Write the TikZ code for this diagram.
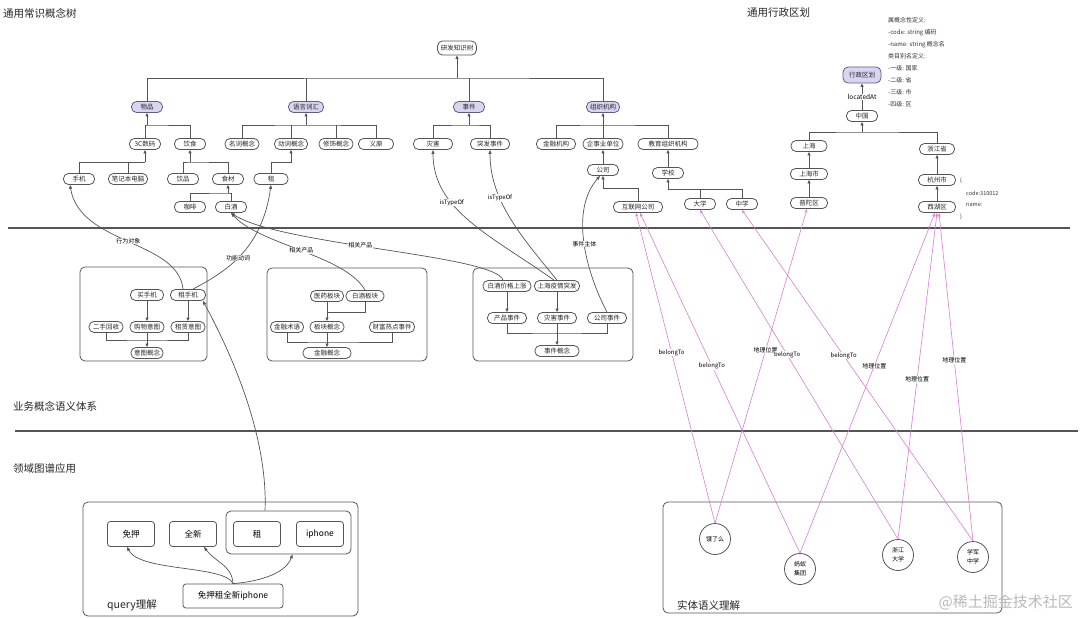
\documentclass[tikz,border=0pt]{standalone}
\usepackage{fontspec}
\setmainfont{Noto Sans CJK SC}
\usetikzlibrary{arrows.meta, positioning}
\definecolor{linegray}{RGB}{85,85,85}
\definecolor{lavender}{RGB}{216,212,242}
\definecolor{purpleline}{RGB}{98,94,128}
\definecolor{pinkline}{RGB}{214,128,214}
\begin{document}
\begin{tikzpicture}[x=1pt, y=-1pt,
  cbox/.style={draw=linegray, line width=0.8pt, rounded corners=5pt, font=\fontsize{6.5}{7}\selectfont, text=black!85, minimum width=31pt, minimum height=11pt, inner xsep=3pt, inner ysep=1pt},
  pbox/.style={cbox, fill=lavender, draw=purpleline},
  tline/.style={draw=linegray, line width=0.8pt},
  arr/.style={tline, -{Triangle[length=3.5pt,width=3pt]}},
  carr/.style={draw=linegray, line width=0.7pt, -{Triangle[length=4pt,width=3pt]}},
  parr/.style={draw=pinkline, line width=0.6pt, -{Stealth[length=4pt,width=3pt]}},
  lab/.style={font=\fontsize{6}{7}\selectfont, fill=white, inner sep=0.5pt},
  group/.style={draw=linegray, line width=0.8pt, rounded corners=5pt},
  qbox/.style={draw=linegray, line width=0.8pt, rounded corners=3pt, minimum width=47pt, minimum height=25pt, font=\fontsize{8.5}{9}\selectfont},
  ent/.style={circle, draw=linegray, line width=0.8pt, minimum size=31pt, inner sep=0pt, align=center, font=\fontsize{6}{9}\selectfont},
  title/.style={font=\fontsize{10.5}{12}\selectfont, text=black!85, inner sep=0pt},
  small/.style={font=\fontsize{5.5}{7}\selectfont, text=black!80, inner sep=0pt},
  sep/.style={draw=linegray, line width=2pt}]
  \useasboundingbox (0,0) rectangle (1080,618);
  \fill[white] (0,0) rectangle (1080,618);

  % section titles and separators
  \node[title, anchor=west] (t1) at (3,13) {通用常识概念树};
  \node[title, anchor=west] (t2) at (747,13) {通用行政区划};
  \node[title, anchor=west] (t3) at (13,406) {业务概念语义体系};
  \node[title, anchor=west] (t4) at (13,469) {领域图谱应用};
  \draw[sep] (8,228) -- (1070,228);
  \draw[sep] (15,431) -- (1078,431);

  % common sense concept tree
  \node[cbox, minimum width=39pt, minimum height=14pt] (root) at (457,48) {研发知识树};
  \node[pbox] (wupin) at (147,107) {物品};
  \node[pbox, minimum width=35pt] (yuyan) at (306,107) {语言词汇};
  \node[pbox] (shijian) at (469,107) {事件};
  \node[pbox, minimum width=33pt] (zuzhi) at (603,107) {组织机构};

  \node[cbox] (sanc) at (145,144) {3C数码};
  \node[cbox] (yinshi) at (190,144) {饮食};
  \node[cbox, minimum width=34pt] (mingci) at (242,144) {名词概念};
  \node[cbox, minimum width=33pt] (dongci) at (291,144) {动词概念};
  \node[cbox, minimum width=34pt] (xiushi) at (336,144) {修饰概念};
  \node[cbox, minimum width=35pt] (yiyuan) at (376,144) {义原};
  \node[cbox, minimum width=39pt] (zaihai) at (433,144) {灾害};
  \node[cbox, minimum width=39pt] (tufa) at (490,144) {突发事件};
  \node[cbox, minimum width=39pt] (jinrongjg) at (556,144) {金融机构};
  \node[cbox, minimum width=40pt] (qishiye) at (603,144) {企事业单位};
  \node[cbox, minimum width=60pt] (jiaoyu) at (668,144) {教育组织机构};

  \node[cbox] (shouji) at (79,179) {手机};
  \node[cbox, minimum width=39pt] (bijiben) at (128,179) {笔记本电脑};
  \node[cbox] (yinpin) at (183,179) {饮品};
  \node[cbox] (shicai) at (228,179) {食材};
  \node[cbox, minimum width=34pt] (zu) at (271,179) {租};
  \node[cbox] (gongsi) at (603,170) {公司};
  \node[cbox] (xuexiao) at (668,173) {学校};

  \node[cbox] (kafei) at (190,207) {咖啡};
  \node[cbox] (baijiu) at (231,207) {白酒};
  \node[cbox, minimum width=49pt] (hulian) at (638,207) {互联网公司};
  \node[cbox] (daxue) at (700,204) {大学};
  \node[cbox] (zhongxue) at (742,204) {中学};

  % tree joins
  \coordinate (j0) at (457,78);
  \draw[tline] (wupin.north) |- (j0) -| (zuzhi.north);
  \foreach \c in {yuyan,shijian} \draw[tline] (\c.north) -- (\c.north |- j0);
  \draw[arr] (j0) -- (root);

  \coordinate (j1) at (147,125);
  \draw[tline] (sanc.north) |- (j1) -| (yinshi.north);
  \draw[arr] (j1) -- (wupin);
  \coordinate (j2) at (306,125);
  \draw[tline] (mingci.north) |- (j2) -| (yiyuan.north);
  \foreach \c in {dongci,xiushi} \draw[tline] (\c.north) -- (\c.north |- j2);
  \draw[arr] (j2) -- (yuyan);
  \coordinate (j3) at (469,125);
  \draw[tline] (zaihai.north) |- (j3) -| (tufa.north);
  \draw[arr] (j3) -- (shijian);
  \coordinate (j4) at (603,125);
  \draw[tline] (jinrongjg.north) |- (j4) -| (jiaoyu.north);
  \draw[tline] (qishiye.north) -- (j4);
  \draw[arr] (j4) -- (zuzhi);

  \coordinate (j5) at (145,162);
  \draw[tline] (shouji.north) |- (j5);
  \draw[tline] (bijiben.north) -- (bijiben.north |- j5);
  \draw[arr] (j5) -- (sanc);
  \coordinate (j6) at (190,162);
  \draw[tline] (yinpin.north) |- (j6) -| (shicai.north);
  \draw[arr] (j6) -- (yinshi);
  \draw[arr] (zu.north) |- (291,162) -- (dongci.south);
  \coordinate (j7) at (228,193);
  \draw[tline] (kafei.north) |- (j7) -| (baijiu.north);
  \draw[arr] (j7) -- (shicai);

  \draw[arr] (gongsi) -- (qishiye);
  \draw[arr] (hulian.north) |- (603,188) -- (gongsi.south);
  \draw[arr] (xuexiao) -- (jiaoyu);
  \coordinate (j8) at (668,189);
  \draw[tline] (zhongxue.north) |- (j8);
  \draw[tline] (daxue.north) -- (daxue.north |- j8);
  \draw[arr] (j8) -- (xuexiao);

  % administrative regions
  \node[pbox, minimum width=38pt, minimum height=16pt] (xzqh) at (862,75) {行政区划};
  \node[cbox] (zhongguo) at (862,116) {中国};
  \node[cbox, minimum width=36pt] (shanghai) at (809,146) {上海};
  \node[cbox, minimum width=35pt] (zhejiang) at (937,149) {浙江省};
  \node[cbox, minimum width=37pt] (shanghaishi) at (809,174) {上海市};
  \node[cbox, minimum width=37pt] (putuo) at (809,203) {普陀区};
  \node[cbox, minimum width=37pt] (hangzhou) at (937,180) {杭州市};
  \node[cbox, minimum width=37pt] (xihu) at (937,207) {西湖区};
  \draw[arr] (zhongguo) -- node[lab, font=\fontsize{6.5}{7}\selectfont] {locatedAt} (xzqh);
  \coordinate (j9) at (862,132);
  \draw[tline] (shanghai.north) |- (j9) -| (zhejiang.north);
  \draw[arr] (j9) -- (zhongguo);
  \draw[arr] (shanghaishi) -- (shanghai);
  \draw[arr] (putuo) -- (shanghaishi);
  \draw[arr] (hangzhou) -- (zhejiang);
  \draw[arr] (xihu) -- (hangzhou);

  \node[small, anchor=north west, align=left, font=\fontsize{6}{12}\selectfont] (defs) at (888,17)
    {属概念性定义:\\-code: string 编码\\-name: string 概念名\\类目别名定义:\\-一级: 国家\\-二级: 省\\-三级: 市\\-四级: 区};
  \node[small] (lbrace) at (961,181) {\{};
  \node[small, anchor=west] (code) at (966,193) {code:310012};
  \node[small, anchor=west] (name) at (966,205) {name:};
  \node[small] (rbrace) at (961,217) {\}};

  % business concepts: intent
  \draw[group] (80,267) rectangle (207,361);
  \node[cbox, minimum width=33pt] (maishouji) at (147,295) {买手机};
  \node[cbox, minimum width=35pt] (zushouji) at (188,295) {租手机};
  \node[cbox, minimum width=34pt] (ershou) at (106,327) {二手回收};
  \node[cbox, minimum width=34pt] (gouwu) at (147,327) {购物意图};
  \node[cbox, minimum width=34pt] (zulin) at (188,327) {租赁意图};
  \node[cbox, minimum width=32pt] (yitu) at (147,353) {意图概念};
  \draw[arr] (maishouji) -- (gouwu);
  \draw[arr] (zushouji) -- (zulin);
  \coordinate (j10) at (147,340);
  \draw[tline] (ershou.south) |- (j10) -| (zulin.south);
  \draw[arr] (gouwu) -- (yitu);

  % business concepts: finance
  \draw[group] (267,268) rectangle (427,361);
  \node[cbox, minimum width=33pt] (yiyao) at (327,296) {医药板块};
  \node[cbox, minimum width=38pt] (baijiubk) at (365,296) {白酒板块};
  \node[cbox, minimum width=33pt] (shuyu) at (287,327) {金融术语};
  \node[cbox, minimum width=34pt] (bankuai) at (327,327) {板块概念};
  \node[cbox, minimum width=45pt] (caifu) at (392,327) {财富热点事件};
  \node[cbox, minimum width=48pt] (jinrong) at (327,353) {金融概念};
  \draw[arr] (yiyao) -- (bankuai);
  \draw[tline] (baijiubk.south) |- (327,312);
  \coordinate (j11) at (327,342);
  \draw[tline] (shuyu.south) |- (j11) -| (caifu.south);
  \draw[arr] (bankuai) -- (jinrong);

  % business concepts: events
  \draw[group] (473,268) rectangle (633,361);
  \node[cbox, minimum width=48pt] (jiage) at (507,286) {白酒价格上涨};
  \node[cbox, minimum width=45pt] (yiqing) at (557,286) {上海疫情突发};
  \node[cbox, minimum width=39pt] (chanpin) at (507,318) {产品事件};
  \node[cbox, minimum width=39pt] (zaihaisj) at (557,318) {灾害事件};
  \node[cbox, minimum width=39pt] (gongsisj) at (607,318) {公司事件};
  \node[cbox, minimum width=44pt] (shijiangn) at (557,351) {事件概念};
  \draw[arr] (jiage) -- (chanpin);
  \draw[arr] (yiqing) -- (zaihaisj);
  \coordinate (j12) at (557,333);
  \draw[tline] (chanpin.south) |- (j12) -| (gongsisj.south);
  \draw[arr] (zaihaisj) -- (shijiangn);

  % links up to the concept tree
  \draw[carr] ([xshift=-5pt]zushouji.north) .. controls (178,240) and (80,245) .. node[lab, pos=0.5] {行为对象} ([xshift=-9pt]shouji.south);
  \draw[carr] ([xshift=5pt]zushouji.north) .. controls (225,272) and (262,250) .. node[lab, pos=0.47] {功能动词} (zu.south);
  \draw[carr] (baijiubk.north) .. controls (345,255) and (260,245) .. node[lab, pos=0.5] {相关产品} (baijiu.south);
  \draw[carr] ([xshift=-4pt]jiage.north) .. controls (495,255) and (280,245) .. node[lab, pos=0.56] {相关产品} (baijiu.south);
  \draw[carr] ([xshift=-3pt]yiqing.north) .. controls (490,235) and (433,210) .. node[lab, pos=0.65] {isTypeOf} (zaihai.south);
  \draw[carr] (yiqing.north) .. controls (520,235) and (490,200) .. node[lab, pos=0.65] {isTypeOf} (tufa.south);
  \draw[carr] (gongsisj.north) .. controls (585,270) and (570,210) .. node[lab, pos=0.48] {事件主体} ([xshift=-3pt]gongsi.south);

  % query understanding
  \draw[group] (83,502) rectangle (358,616);
  \node[qbox] (mianya) at (131,534) {免押};
  \node[qbox] (quanxin) at (193,534) {全新};
  \node[qbox] (zu2) at (257,534) {租};
  \node[qbox] (iphone) at (320,534) {iphone};
  \node[group, minimum width=125pt, minimum height=43pt] (zugrp) at (288.5,532.5) {};
  \node[qbox, minimum width=100pt, minimum height=24pt] (query) at (233,596) {免押租全新iphone};
  \node[title, anchor=west] (qlabel) at (107,605) {query理解};
  \draw[carr] (query.north) .. controls (225,565) and (140,572) .. ([xshift=-4pt]mianya.south);
  \draw[carr] (query.north) .. controls (232,565) and (215,562) .. ([xshift=11pt]quanxin.south);
  \draw[carr] (query.north) .. controls (255,582) and (285,575) .. ([xshift=4pt]zugrp.south);
  \draw[carr] ([xshift=-23.5pt]zugrp.north) .. controls (268,440) and (235,360) .. ([xshift=-3pt]zushouji.south east);

  % entity understanding
  \draw[group] (663,502) rectangle (1002,613);
  \node[ent] (eleme) at (715,539) {饿了么};
  \node[ent] (mayi) at (800,569) {蚂蚁\\集团};
  \node[ent] (zheda) at (898,555) {浙江\\大学};
  \node[ent] (xuejun) at (973,557) {学军\\中学};
  \node[title, anchor=west] (elabel) at (677,605) {实体语义理解};
  \node[anchor=east, inner sep=0pt, font=\fontsize{15}{16}\selectfont, text=gray!55] (wmark) at (1073,602) {@稀土掘金技术社区};

  \draw[parr] (eleme.north) -- node[lab, pos=0.55] {belongTo} ([xshift=-2pt]hulian.south);
  \draw[parr] (mayi.north) -- node[lab, pos=0.55] {belongTo} ([xshift=2pt]hulian.south);
  \draw[parr] (eleme.north) -- node[lab, pos=0.55] {地理位置} ([xshift=-2pt]putuo.south);
  \draw[parr] (mayi.north) -- node[lab, pos=0.55] {地理位置} ([xshift=-2pt]xihu.south);
  \draw[parr] (zheda.north) -- node[lab, pos=0.56] {belongTo} (daxue.south);
  \draw[parr] (xuejun.north) -- node[lab, pos=0.56] {belongTo} (zhongxue.south);
  \draw[parr] (zheda.north) -- node[lab, pos=0.49] {地理位置} (xihu.south);
  \draw[parr] (xuejun.north) -- node[lab, pos=0.55] {地理位置} ([xshift=2pt]xihu.south);
\end{tikzpicture}
\end{document}
